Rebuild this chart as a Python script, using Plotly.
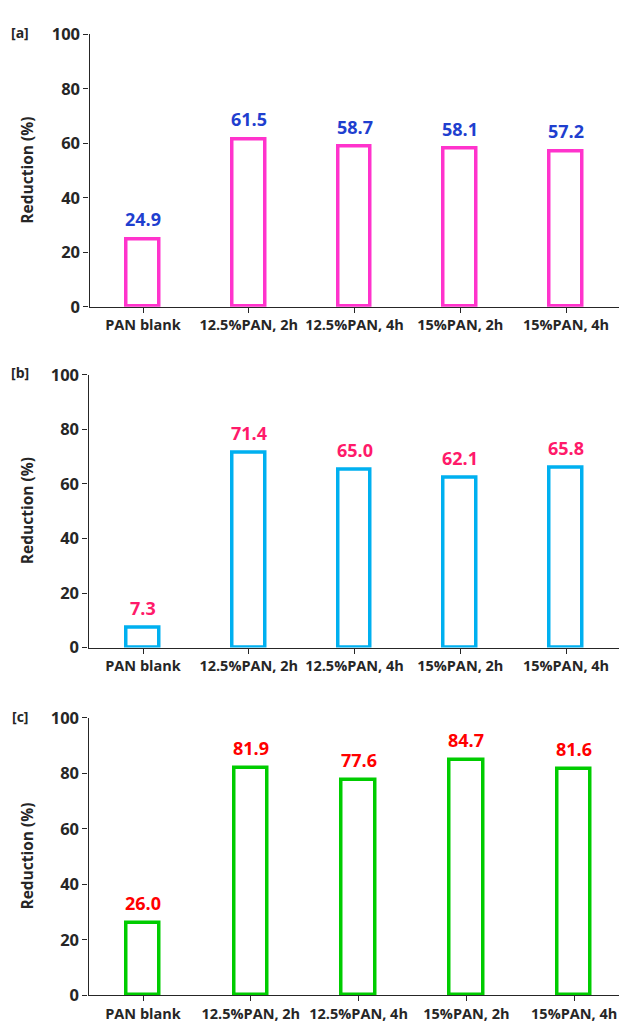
import plotly.graph_objects as go
from plotly.subplots import make_subplots

categories = ["PAN blank", "12.5%PAN, 2h", "12.5%PAN, 4h", "15%PAN, 2h", "15%PAN, 4h"]
values_a = [24.9, 61.5, 58.7, 58.1, 57.2]
values_b = [7.3, 71.4, 65.0, 62.1, 65.8]
values_c = [26.0, 81.9, 77.6, 84.7, 81.6]
panel_labels = ["[a]", "[b]", "[c]"]
y_ticks = [0, 20, 40, 60, 80, 100]

W, H = 619, 1036
FONT = "Open Sans"
TXT = "#262626"

panels = [
    dict(vals=values_a, bar="#FF33CC", lab="#1F3FCF", top=23, bot=301.5, left=89.5, right=619, x0=143, dx=105.75),
    dict(vals=values_b, bar="#00B0F0", lab="#FF1A6A", top=371, bot=650, left=88.5, right=619, x0=143, dx=105.75),
    dict(vals=values_c, bar="#00CC00", lab="#FF0000", top=722, bot=1005.5, left=88.5, right=619, x0=143, dx=107.8),
]

fig = make_subplots(rows=3, cols=1)
annotations = []
for i, p in enumerate(panels):
    r = i + 1
    xs = list(range(len(categories)))
    fig.add_trace(go.Bar(
        x=xs, y=p["vals"], width=0.31,
        marker=dict(color="rgba(255,255,255,0)", line=dict(color=p["bar"], width=3.5)),
        showlegend=False, hoverinfo="skip",
    ), row=r, col=1)
    xr = [(p["left"] - p["x0"]) / p["dx"], (p["right"] - p["x0"]) / p["dx"]]
    xa = "xaxis" if r == 1 else f"xaxis{r}"
    ya = "yaxis" if r == 1 else f"yaxis{r}"
    fig.layout[xa].update(
        domain=[p["left"] / W, p["right"] / W], range=xr,
        tickmode="array", tickvals=xs, ticktext=categories,
        ticks="outside", ticklen=5, tickcolor="#262626", tickwidth=1,
        showline=True, linecolor="#262626", linewidth=1.3,
        showgrid=False, zeroline=False,
        tickfont=dict(family=FONT, size=14.5, color=TXT, weight="bold"),
    )
    fig.layout[ya].update(
        domain=[1 - p["bot"] / H, 1 - p["top"] / H], range=[0, 100],
        tickmode="array", tickvals=y_ticks,
        ticks="outside", ticklen=5, tickcolor="#262626", tickwidth=1,
        showline=True, linecolor="#262626", linewidth=1.3,
        showgrid=False, zeroline=False,
        tickfont=dict(family=FONT, size=16.5, color=TXT, weight="bold"),
    )
    xref = "x" if r == 1 else f"x{r}"
    yref = "y" if r == 1 else f"y{r}"
    for x, v in zip(xs, p["vals"]):
        annotations.append(dict(
            x=x, y=v, xref=xref, yref=yref, text=f"{v:.1f}", showarrow=False,
            yanchor="bottom", yshift=6,
            font=dict(family=FONT, size=18, color=p["lab"], weight="bold"),
        ))
    annotations.append(dict(
        x=20 / W, y=1 - (p["top"] - 2) / H, xref="paper", yref="paper", text=panel_labels[i],
        showarrow=False, xanchor="center", yanchor="middle",
        font=dict(family=FONT, size=14, color=TXT, weight="bold"),
    ))
    annotations.append(dict(
        x=27 / W, y=1 - (p["top"] + p["bot"]) / 2 / H, xref="paper", yref="paper",
        text="Reduction (%)", textangle=-90, showarrow=False,
        xanchor="center", yanchor="middle",
        font=dict(family=FONT, size=15.5, color=TXT, weight="bold"),
    ))

fig.update_layout(
    width=W, height=H, margin=dict(l=0, r=0, t=0, b=0),
    paper_bgcolor="white", plot_bgcolor="white",
    annotations=annotations, bargap=0,
)
fig.write_html("out.html")
